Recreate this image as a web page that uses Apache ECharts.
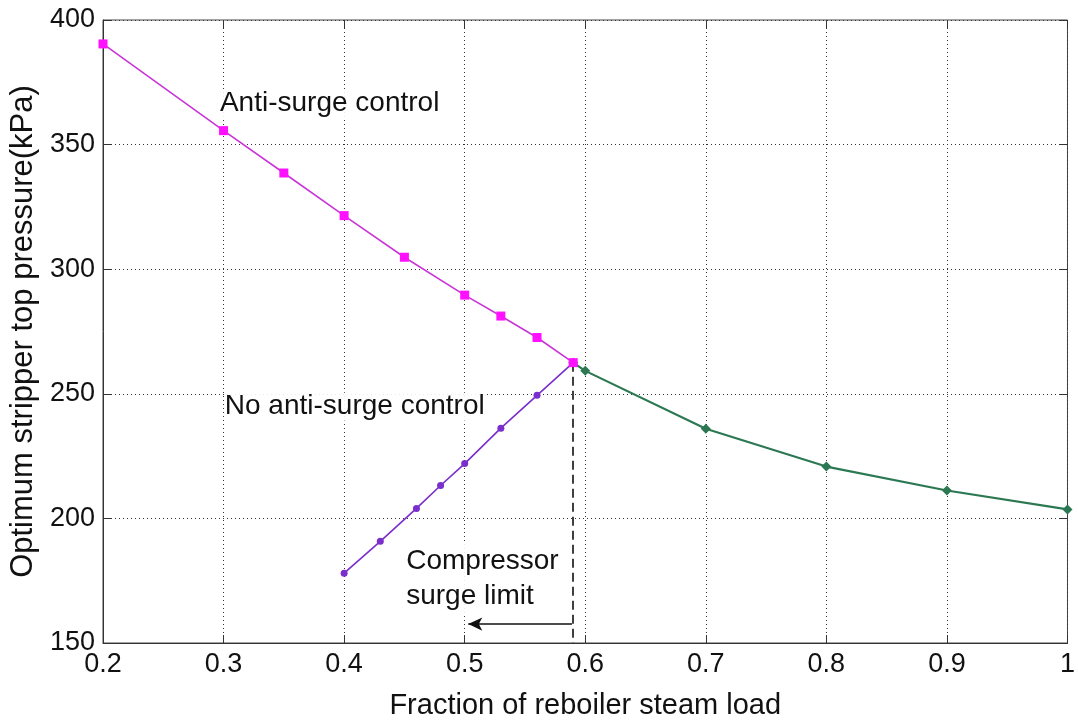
<!DOCTYPE html>
<html>
<head>
<meta charset="utf-8">
<script src="https://cdn.jsdelivr.net/npm/echarts@6/dist/echarts.min.js"></script>
<style>
  html, body { margin: 0; padding: 0; background: #fff; }
  #chart { width: 1078px; height: 725px; }
</style>
</head>
<body>
<div id="chart"></div>
<script>
// Steam load fractions and optimum stripper top pressures (kPa)
const antiSurgeLoad = [0.2, 0.3, 0.35, 0.4, 0.45, 0.5, 0.53, 0.56, 0.59];
const antiSurgePressure = [390.4, 355.6, 338.6, 321.5, 304.8, 289.6, 281.2, 272.6, 262.5];

const noAntiSurgeLoad = [0.4, 0.43, 0.46, 0.48, 0.5, 0.53, 0.56, 0.59];
const noAntiSurgePressure = [178, 190.8, 204, 213.2, 222, 236.2, 249.4, 262.5];

const aboveLimitLoad = [0.59, 0.6, 0.7, 0.8, 0.9, 1.0];
const aboveLimitPressure = [262.5, 259.2, 236, 220.8, 211.2, 203.6];

// Compressor surge limit and where its arrow points
const surgeLimitLoad = 0.59;
const surgeArrowTarget = 0.503;

const xTicks = ['0.2', '0.3', '0.4', '0.5', '0.6', '0.7', '0.8', '0.9', '1'];
const yTicks = ['150', '200', '250', '300', '350', '400'];

const FONT = "'Liberation Sans', Arial, Helvetica, sans-serif";

function pairs(xs, ys) { return xs.map((x, i) => [x, ys[i]]); }

const xMin = Number(xTicks[0]), xMax = Number(xTicks[xTicks.length - 1]);
const yMin = Number(yTicks[0]), yMax = Number(yTicks[yTicks.length - 1]);

const tickStyle = { show: true, inside: true, length: 8, lineStyle: { color: '#333', width: 1 } };

const chart = echarts.init(document.getElementById('chart'), null, { renderer: 'canvas' });

chart.setOption({
  animation: false,
  backgroundColor: '#fff',
  grid: {
    left: 103, right: 7, top: 20, bottom: 80,
    show: true, borderColor: '#444', borderWidth: 1
  },
  xAxis: [{
    type: 'value', min: xMin, max: xMax, interval: 0.1,
    name: 'Fraction of reboiler steam load',
    nameLocation: 'middle', nameGap: 48,
    nameTextStyle: { fontFamily: FONT, fontSize: 29, color: '#111' },
    axisLine: { show: true, onZero: false, lineStyle: { color: '#333', width: 1 } },
    axisTick: tickStyle,
    axisLabel: { fontFamily: FONT, fontSize: 27, color: '#111', margin: 8,
                 formatter: v => String(Math.round(v * 10) / 10) },
    splitLine: { show: true, lineStyle: { type: [1, 3], color: '#333', width: 1 } }
  }, {
    type: 'value', min: xMin, max: xMax, interval: 0.1, position: 'top',
    axisLine: { show: false }, axisTick: tickStyle,
    axisLabel: { show: false }, splitLine: { show: false }
  }],
  yAxis: [{
    type: 'value', min: yMin, max: yMax, interval: 50,
    name: 'Optimum stripper top pressure(kPa)',
    nameLocation: 'middle', nameGap: 64,
    nameTextStyle: { fontFamily: FONT, fontSize: 31, color: '#111' },
    axisLine: { show: true, onZero: false, lineStyle: { color: '#333', width: 1 } },
    axisTick: tickStyle,
    axisLabel: { fontFamily: FONT, fontSize: 27, color: '#111', margin: 8 },
    splitLine: { show: true, lineStyle: { type: [1, 3], color: '#333', width: 1 } }
  }, {
    type: 'value', min: yMin, max: yMax, interval: 50, position: 'right',
    axisLine: { show: false }, axisTick: tickStyle,
    axisLabel: { show: false }, splitLine: { show: false }
  }],
  series: [
    {
      name: 'Above surge limit',
      type: 'line',
      data: pairs(aboveLimitLoad, aboveLimitPressure),
      symbol: 'diamond', symbolSize: 10,
      lineStyle: { color: '#2b7853', width: 2.2 },
      itemStyle: { color: '#2b7853' },
      z: 3
    },
    {
      name: 'No anti-surge control',
      type: 'line',
      data: pairs(noAntiSurgeLoad, noAntiSurgePressure),
      symbol: 'circle', symbolSize: 7,
      lineStyle: { color: '#7a2ecb', width: 1.6 },
      itemStyle: { color: '#7a2ecb' },
      z: 4
    },
    {
      name: 'Anti-surge control',
      type: 'line',
      data: pairs(antiSurgeLoad, antiSurgePressure),
      symbol: 'rect', symbolSize: 9,
      lineStyle: { color: '#c935d6', width: 1.6 },
      itemStyle: { color: '#ff10ff' },
      z: 5
    },
    {
      // surge limit marker, arrow and text annotations
      name: 'annotations',
      type: 'line',
      data: [],
      silent: true,
      markLine: {
        silent: true,
        animation: false,
        label: { show: false },
        data: [
          [
            { coord: [surgeLimitLoad, noAntiSurgePressure[noAntiSurgePressure.length - 1]], symbol: 'none',
              lineStyle: { type: [9, 5], color: '#111', width: 1.6 } },
            { coord: [surgeLimitLoad, yMin], symbol: 'none' }
          ],
          [
            { coord: [surgeLimitLoad - 0.001, 157.6], symbol: 'none',
              lineStyle: { type: 'solid', color: '#111', width: 1.6 } },
            { coord: [surgeArrowTarget, 157.6], symbol: 'arrow', symbolSize: [10, 14] }
          ]
        ]
      },
      markPoint: {
        silent: true,
        animation: false,
        symbol: 'circle', symbolSize: 0,
        label: {
          show: true, position: 'right', distance: 0,
          fontFamily: FONT, fontSize: 28, color: '#111',
          backgroundColor: 'rgba(255,255,255,0.9)'
        },
        data: [
          { coord: [0.297, 366.4], label: { formatter: 'Anti-surge control' } },
          { coord: [0.301, 244.8], label: { formatter: 'No anti-surge control' } },
          { coord: [0.4515, 175.8], label: { formatter: 'Compressor\nsurge limit', lineHeight: 35 } }
        ]
      },
      z: 6
    }
  ]
});
</script>
</body>
</html>
